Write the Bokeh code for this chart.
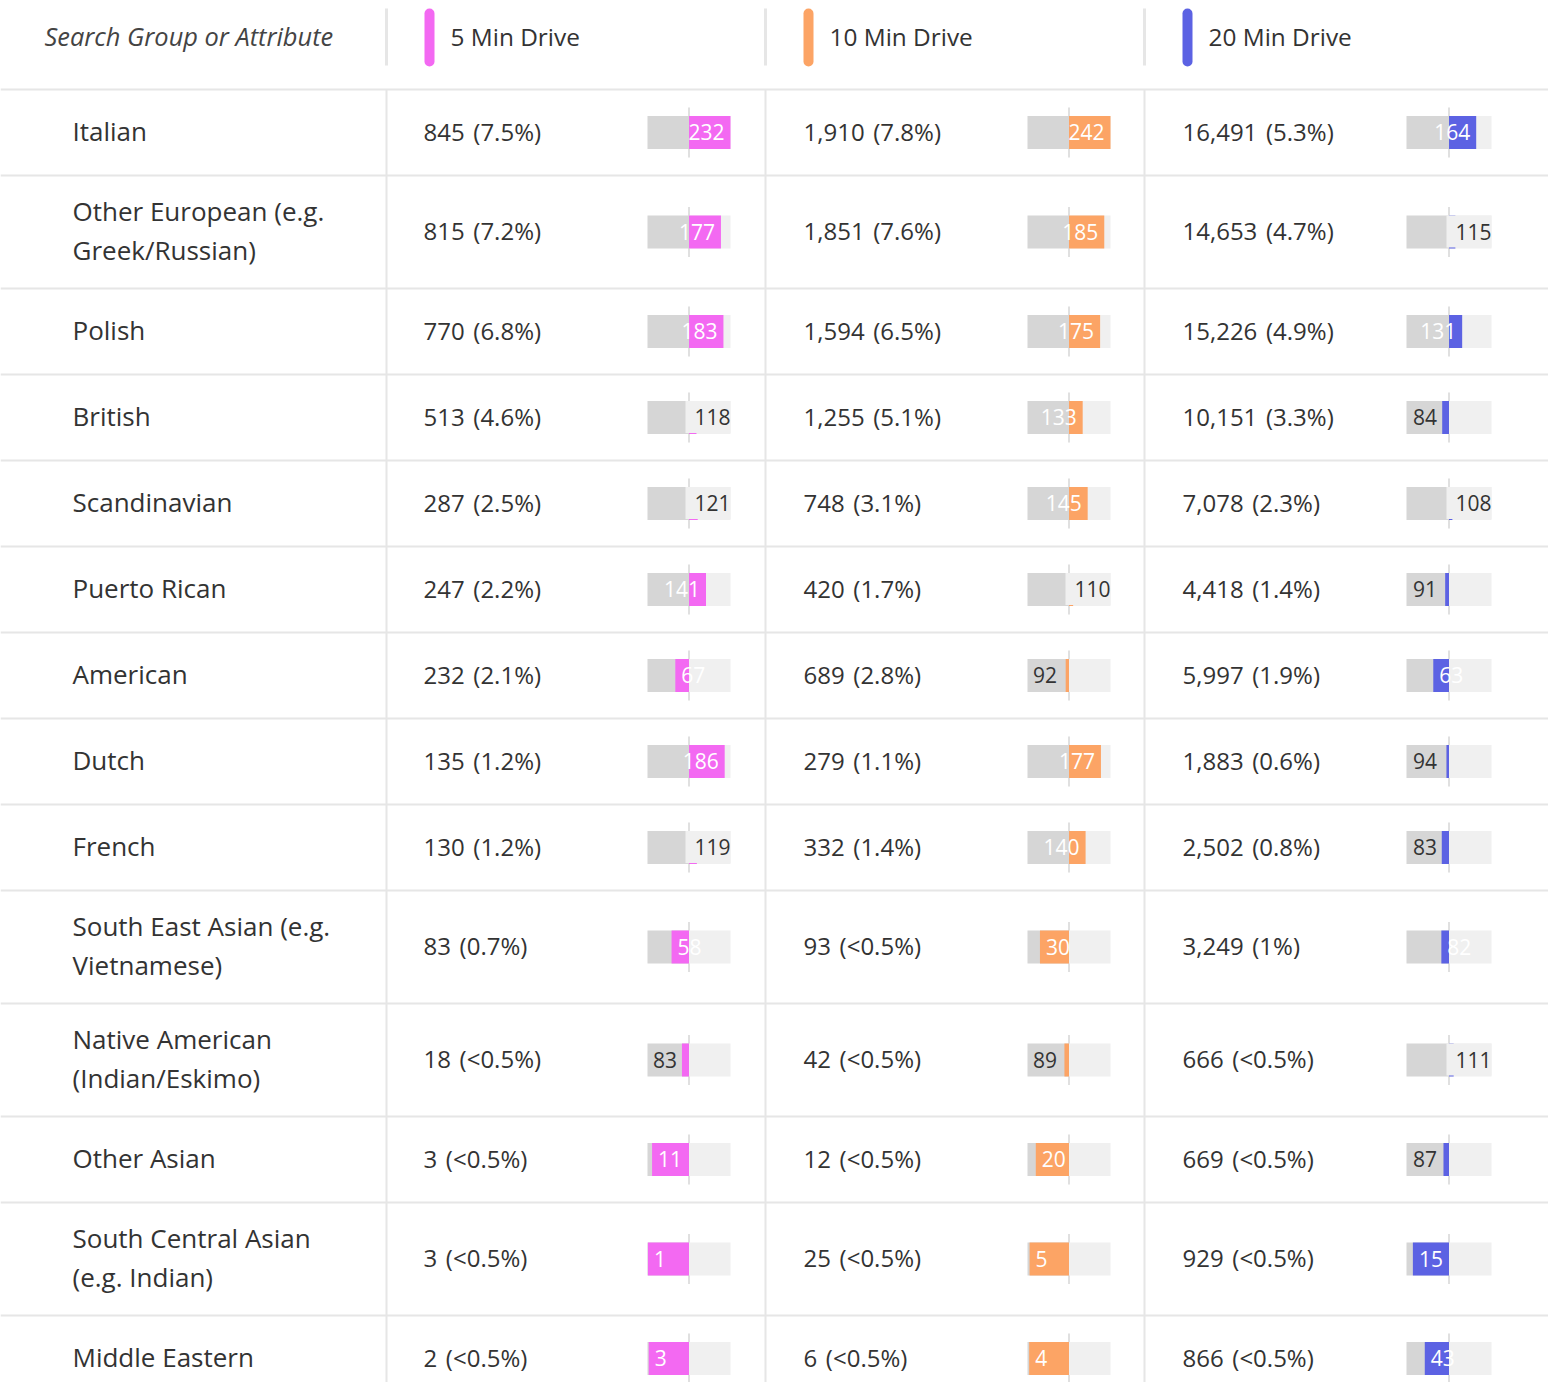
from bokeh.plotting import figure
from bokeh.models import Range1d, ColumnDataSource
from bokeh.core.properties import value
from bokeh.embed import file_html
from bokeh.resources import INLINE

# ---------------- data ----------------
groups = ["Italian", "Other European (e.g.\nGreek/Russian)", "Polish", "British",
          "Scandinavian", "Puerto Rican", "American", "Dutch", "French",
          "South East Asian (e.g.\nVietnamese)", "Native American\n(Indian/Eskimo)",
          "Other Asian", "South Central Asian\n(e.g. Indian)", "Middle Eastern"]

col_titles = ["5 Min Drive", "10 Min Drive", "20 Min Drive"]

count5 = [845, 815, 770, 513, 287, 247, 232, 135, 130, 83, 18, 3, 3, 2]
pct5 = ["7.5%", "7.2%", "6.8%", "4.6%", "2.5%", "2.2%", "2.1%", "1.2%", "1.2%",
        "0.7%", "<0.5%", "<0.5%", "<0.5%", "<0.5%"]
index5 = [232, 177, 183, 118, 121, 141, 67, 186, 119, 58, 83, 11, 1, 3]

count10 = [1910, 1851, 1594, 1255, 748, 420, 689, 279, 332, 93, 42, 12, 25, 6]
pct10 = ["7.8%", "7.6%", "6.5%", "5.1%", "3.1%", "1.7%", "2.8%", "1.1%", "1.4%",
         "<0.5%", "<0.5%", "<0.5%", "<0.5%", "<0.5%"]
index10 = [242, 185, 175, 133, 145, 110, 92, 177, 140, 30, 89, 20, 5, 4]

count20 = [16491, 14653, 15226, 10151, 7078, 4418, 5997, 1883, 2502, 3249, 666, 669, 929, 866]
pct20 = ["5.3%", "4.7%", "4.9%", "3.3%", "2.3%", "1.4%", "1.9%", "0.6%", "0.8%",
         "1%", "<0.5%", "<0.5%", "<0.5%", "<0.5%"]
index20 = [164, 115, 131, 84, 108, 91, 63, 94, 83, 82, 111, 87, 15, 43]

# ---------------- layout / style ----------------
W, H = 1548, 1382
FONT = "Open Sans"
TXT = "#333333"
RULE = "#e6e6e6"
colors = ["#f369f2", "#fca465", "#5c62e3"]
sep_x = [386, 765, 1144]
val_x = [423, 803, 1182]
tracks = [(647, 730), (1027, 1110), (1406, 1491)]
header_y = 37
top_rule = 89
TY = -1.5  # small vertical nudge for text

p = figure(width=W, height=H, output_backend="svg", toolbar_location=None,
           x_range=Range1d(0, W), y_range=Range1d(H, 0),
           x_axis_location=None, y_axis_location=None, min_border=0)
p.grid.visible = False
p.outline_line_color = None
p.background_fill_color = "white"
p.border_fill_color = "white"

# row geometry
heights = [113 if "\n" in g else 86 for g in groups]
bounds = [top_rule]
for h in heights:
    bounds.append(bounds[-1] + h)
centers = [(bounds[i] + bounds[i + 1]) / 2 for i in range(len(groups))]

# rules
p.segment(x0=[0] * (len(bounds) - 1), x1=[W] * (len(bounds) - 1),
          y0=bounds[:-1], y1=bounds[:-1], line_color=RULE, line_width=2)
p.segment(x0=sep_x, x1=sep_x, y0=[top_rule] * 3, y1=[H] * 3,
          line_color=RULE, line_width=2)
p.segment(x0=sep_x, x1=sep_x, y0=[8] * 3, y1=[65] * 3, line_color=RULE, line_width=3)

# header
p.text(x=[44], y=[header_y], text=["Search Group or Attribute"], text_font=value(FONT),
       text_font_style="italic", text_font_size="25.4px", text_color="#444444",
       text_baseline="middle", text_align="left", y_offset=TY)
p.segment(x0=[s + 43 for s in sep_x], x1=[s + 43 for s in sep_x], y0=[13] * 3, y1=[61] * 3,
          line_color=colors, line_width=10, line_cap="round")
p.text(x=[s + 64 for s in sep_x], y=[header_y] * 3, text=col_titles, text_font=value(FONT),
       text_font_size="24.4px", text_color=TXT, text_baseline="middle", text_align="left",
       y_offset=TY)

# row labels
p.text(x=[72] * len(groups), y=centers, text=groups, text_font=value(FONT),
       text_font_size="26px", text_color=TXT, text_baseline="middle", text_align="left",
       text_line_height=1.1, y_offset=TY)

PADL = 9
series = [(count5, pct5, index5), (count10, pct10, index10), (count20, pct20, index20)]
for ci, (counts, pcts, idx) in enumerate(series):
    a, b = tracks[ci]
    k = (b - a) / 200.0
    start = -a / k
    rname = "bar%d" % ci
    p.extra_x_ranges[rname] = Range1d(start, start + W / k)

    vt = ["%s\u200a (%s)" % (format(c, ","), pc) for c, pc in zip(counts, pcts)]
    p.text(x=[val_x[ci]] * len(vt), y=centers, text=vt, text_font=value(FONT),
           text_font_size="24px", text_color=TXT, text_baseline="middle", text_align="left",
           y_offset=TY)

    n = len(idx)
    p.segment(x0=[100] * n, x1=[100] * n, y0=[c - 25 for c in centers],
              y1=[c + 25 for c in centers], line_color="#e0e0e0", line_width=2,
              x_range_name=rname)
    p.hbar(y=centers, left=[0] * n, right=[100] * n, height=33, fill_color="#d6d6d6",
           line_color=None, x_range_name=rname)
    p.hbar(y=centers, left=[100] * n, right=[200] * n, height=33, fill_color="#f0f0f0",
           line_color=None, x_range_name=rname)
    p.hbar(y=centers, left=[min(v, 100) for v in idx],
           right=[min(max(v, 100), 200) for v in idx], height=33,
           fill_color=colors[ci], line_color=None, x_range_name=rname)

    lx, lal, loff, lcol, lbg, lba = [], [], [], [], [], []
    for v in idx:
        if v >= 100:
            if v >= 130:
                lx.append(min(v, 200)); lal.append("right"); loff.append(-6)
                lcol.append("white"); lbg.append("#f0f0f0"); lba.append(0.0)
            else:
                lx.append(200); lal.append("right"); loff.append(0)
                lcol.append(TXT); lbg.append("#f0f0f0"); lba.append(1.0)
        else:
            if v <= 82:
                lx.append(v); lal.append("left"); loff.append(6 - PADL)
                lcol.append("white"); lbg.append("#d6d6d6"); lba.append(0.0)
            else:
                lx.append(100); lal.append("right"); loff.append(-12)
                lcol.append(TXT); lbg.append("#d6d6d6"); lba.append(0.0)
    src = ColumnDataSource(dict(x=lx, y=centers, t=[str(v) for v in idx], al=lal,
                                off=loff, col=lcol, bg=lbg, ba=lba))
    kw = dict(x="x", y="y", text="t", source=src, x_range_name=rname,
              x_offset="off", text_align="al", text_color="col",
              text_baseline="middle", text_font=value(FONT), text_font_size="21px",
              background_fill_color="bg", background_fill_alpha="ba", y_offset=-0.5)
    done = False
    for pad in (dict(left=PADL, right=0, top=8, bottom=8), (8, 0, 8, PADL)):
        try:
            p.text(padding=pad, **kw)
            done = True
            break
        except Exception:
            pass
    if not done:
        try:
            p.text(**kw)
        except Exception:
            kw.pop("background_fill_color"); kw.pop("background_fill_alpha")
            p.text(**kw)

open("out.html", "w").write(file_html(p, INLINE))
